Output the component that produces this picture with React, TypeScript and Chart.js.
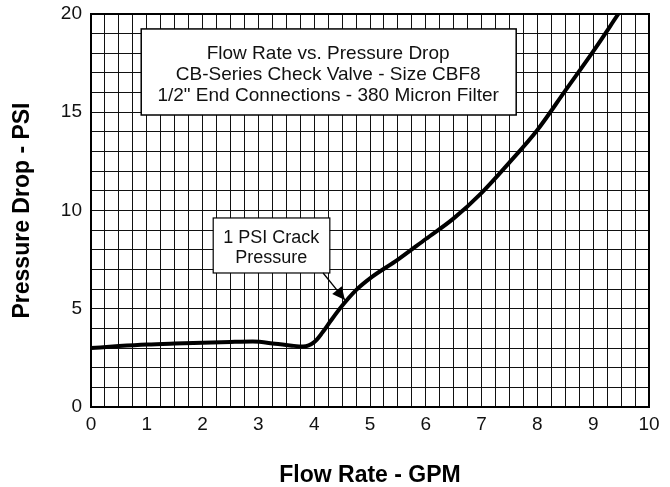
import React, { useEffect, useRef } from "react";
import { Chart, registerables } from "chart.js";

Chart.register(...registerables);

// Flow rate (GPM) and pressure drop (PSI)
const flowRate = [0, 0.5, 1, 1.5, 2, 2.5, 2.9, 3.3, 3.6, 3.8, 4.0, 4.15, 4.3, 4.5, 4.75, 5.0, 5.5, 6.0, 6.5, 7.0, 7.5, 8.0, 8.5, 9.0, 9.45];
const pressureDrop = [3.0, 3.1, 3.18, 3.23, 3.27, 3.31, 3.33, 3.22, 3.12, 3.08, 3.3, 3.8, 4.4, 5.15, 5.95, 6.55, 7.5, 8.55, 9.6, 10.9, 12.45, 14.1, 16.1, 18.1, 20];

const xTickLabels = ["0", "1", "2", "3", "4", "5", "6", "7", "8", "9", "10"];
const yTickLabels = ["0", "5", "10", "15", "20"];

const titleLines = [
  "Flow Rate vs. Pressure Drop",
  "CB-Series Check Valve - Size CBF8",
  '1/2" End Connections - 380 Micron Filter',
];
const crackLines = ["1 PSI Crack", "Pressure"];

const FONT = "'Liberation Sans', Arial, Helvetica, sans-serif";

const overlayPlugin = {
  id: "overlay",
  beforeDatasetsDraw(chart: any) {
    const { ctx, chartArea, scales } = chart;
    const xs = scales.x;
    const ys = scales.y;
    const X = (v: number) => xs.getPixelForValue(v);
    const Y = (v: number) => ys.getPixelForValue(v);
    ctx.save();
    // Title box
    const bx0 = X(0.9), bx1 = X(7.62), by0 = Y(19.24), by1 = Y(14.86);
    ctx.fillStyle = "#fff";
    ctx.fillRect(bx0, by0, bx1 - bx0, by1 - by0);
    ctx.strokeStyle = "#000";
    ctx.lineWidth = 1.5;
    ctx.strokeRect(bx0, by0, bx1 - bx0, by1 - by0);
    ctx.fillStyle = "#111";
    ctx.font = `19px ${FONT}`;
    ctx.textAlign = "center";
    ctx.textBaseline = "middle";
    const tys = [17.96, 16.9, 15.83];
    titleLines.forEach((t, i) => ctx.fillText(t, X(4.25), Y(tys[i])));

    // Crack pressure callout box
    const cx0 = X(2.19), cx1 = X(4.28), cy0 = Y(9.62), cy1 = Y(6.82);
    ctx.fillStyle = "#fff";
    ctx.fillRect(cx0, cy0, cx1 - cx0, cy1 - cy0);
    ctx.strokeStyle = "#000";
    ctx.lineWidth = 1.2;
    ctx.strokeRect(cx0, cy0, cx1 - cx0, cy1 - cy0);
    ctx.fillStyle = "#111";
    ctx.font = `18px ${FONT}`;
    const cys = [8.6, 7.58];
    crackLines.forEach((t, i) => ctx.fillText(t, X(3.23), Y(cys[i])));

    // Arrow
    const ax0 = X(4.16), ay0 = Y(6.82), ax1 = X(4.55), ay1 = Y(5.45);
    ctx.beginPath();
    ctx.moveTo(ax0, ay0);
    ctx.lineTo(ax1, ay1);
    ctx.lineWidth = 1.3;
    ctx.stroke();
    const ang = Math.atan2(ay1 - ay0, ax1 - ax0);
    const hl = 14, hw = 0.45;
    ctx.beginPath();
    ctx.moveTo(ax1, ay1);
    ctx.lineTo(ax1 - hl * Math.cos(ang - hw), ay1 - hl * Math.sin(ang - hw));
    ctx.lineTo(ax1 - hl * Math.cos(ang + hw), ay1 - hl * Math.sin(ang + hw));
    ctx.closePath();
    ctx.fillStyle = "#000";
    ctx.fill();

    // Plot frame
    ctx.lineWidth = 2;
    ctx.strokeStyle = "#000";
    ctx.strokeRect(chartArea.left, chartArea.top, chartArea.right - chartArea.left, chartArea.bottom - chartArea.top);
    ctx.restore();
  },
};

export default function App() {
  const ref = useRef<HTMLCanvasElement | null>(null);
  useEffect(() => {
    document.body.style.margin = "0";
    if (!ref.current) return;
    const chart = new Chart(ref.current, {
      type: "line",
      data: {
        datasets: [
          {
            data: flowRate.map((x, i) => ({ x, y: pressureDrop[i] })),
            borderColor: "#000",
            borderWidth: 4,
            pointRadius: 0,
            tension: 0.4,
            cubicInterpolationMode: "monotone",
            fill: false,
          },
        ],
      },
      options: {
        responsive: false,
        animation: false,
        layout: { padding: { top: 14, right: 21, left: 0, bottom: 0 } },
        plugins: { legend: { display: false }, tooltip: { enabled: false } },
        scales: {
          x: {
            type: "linear",
            min: 0,
            max: 10,
            afterFit: (s: any) => { s.height = 80; s.paddingLeft = 0; s.paddingRight = 0; },
            grid: { color: "#111", lineWidth: 1, drawTicks: false },
            border: { display: true, color: "#000", width: 2 },
            ticks: {
              stepSize: 0.25,
              autoSkip: false,
              maxRotation: 0,
              padding: 6,
              color: "#111",
              font: { family: FONT, size: 19 },
              callback: (v: any) => (Number.isInteger(v) ? xTickLabels[v] : ""),
            },
            title: {
              display: true,
              text: "Flow Rate - GPM",
              color: "#000",
              font: { family: FONT, size: 23, weight: "bold", lineHeight: 1 },
              padding: { top: 0, bottom: 0 },
            },
          },
          y: {
            min: 0,
            max: 20,
            afterFit: (s: any) => { s.width = 91; s.paddingTop = 0; s.paddingBottom = 0; },
            grid: { color: "#111", lineWidth: 1, drawTicks: false },
            border: { display: true, color: "#000", width: 2 },
            ticks: {
              stepSize: 1,
              autoSkip: false,
              padding: 9,
              color: "#111",
              font: { family: FONT, size: 19 },
              callback: (v: any) => (v % 5 === 0 ? yTickLabels[v / 5] : ""),
            },
            title: {
              display: true,
              text: "Pressure Drop - PSI",
              color: "#000",
              font: { family: FONT, size: 23, weight: "bold", lineHeight: 1 },
              padding: { top: 11, bottom: 0 },
            },
          },
        },
      },
      plugins: [overlayPlugin],
    } as any);
    return () => chart.destroy();
  }, []);
  return <canvas ref={ref} width={670} height={487} style={{ display: "block" }} />;
}
